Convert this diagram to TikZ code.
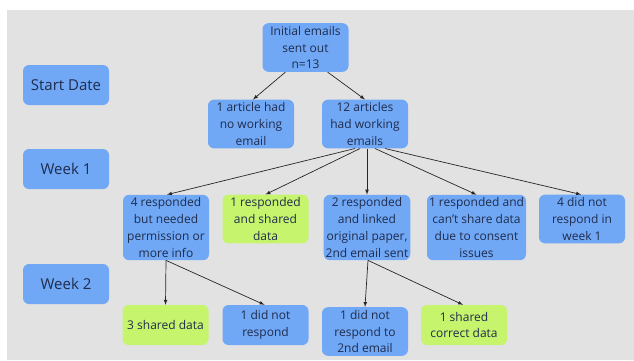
\documentclass[tikz,border=0pt]{standalone}
\usepackage{fontspec}
\setmainfont{Open Sans}
\usetikzlibrary{arrows}

\definecolor{boxblue}{HTML}{70A8F6}
\definecolor{boxgreen}{HTML}{C6F46C}
\definecolor{canvas}{HTML}{E2E2E2}
\definecolor{ink}{HTML}{1F2C4C}

\tikzset{
  box/.style={fill=boxblue, rounded corners=6pt, align=center, text=ink,
    minimum width=86pt, minimum height=40pt, inner xsep=2pt, inner ysep=3pt,
    font=\fontsize{12}{16.7}\selectfont},
  done/.style={box, fill=boxgreen},
  stage/.style={box, font=\fontsize{15}{18}\selectfont},
}

\begin{document}
\begin{tikzpicture}[x=1pt, y=-1pt, >=latex]
  \useasboundingbox (0,0) rectangle (634,360);
  \fill[canvas] (7,10) rectangle (634,360);

  % time line on the left
  \node[stage] (start) at (66,85)  {Start Date};
  \node[stage] (wk1)   at (66,169) {Week 1};
  \node[stage] (wk2)   at (66,284) {Week 2};

  % start
  \node[box] (init)  at (305.5,47.5) {Initial emails\\sent out\\n=13};
  \node[box] (art1)  at (251,124)    {1 article had\\no working\\email};
  \node[box] (art12) at (365,124)    {12 articles\\had working\\emails};

  % week 1
  \node[box]  (resp4)   at (166,227.5)   {4 responded\\but needed\\permission or\\more info};
  \node[done] (shared1) at (265.5,219)   {1 responded\\and shared\\data};
  \node[box]  (resp2)   at (367,227.5)   {2 responded\\and linked\\original paper,\\2nd email sent};
  \node[box, minimum width=99pt] (consent) at (476.5,227.5) {1 responded and\\can't share data\\due to consent\\issues};
  \node[box]  (noresp4) at (582,219)     {4 did not\\respond in\\week 1};

  % week 2
  \node[done] (shared3)   at (165.5,325) {3 shared data};
  \node[box]  (noresp1)   at (265.5,325) {1 did not\\respond};
  \node[box]  (noresp2nd) at (365,331.5) {1 did not\\respond to\\2nd email};
  \node[done] (correct)   at (464,325)   {1 shared\\correct data};

  \path[->, line width=0.7pt, black!85]
  ([xshift=-20pt]init.south) edge ([xshift=2pt]art1.north)
  ([xshift=22pt]init.south)  edge (art12.north)
  ([xshift=-10pt]art12.south) edge ([xshift=1pt]resp4.north)
  ([xshift=-5pt]art12.south)  edge (shared1.north)
  ([xshift=2pt]art12.south)   edge (resp2.north)
  ([xshift=10pt]art12.south)  edge (consent.north)
  ([xshift=20pt]art12.south)  edge ([xshift=-1pt]noresp4.north)
  (resp4.south) edge (shared3.north)
  (resp4.south) edge ([xshift=-1pt]noresp1.north)
  ([xshift=1pt]resp2.south) edge (noresp2nd.north)
  ([xshift=1pt]resp2.south) edge ([xshift=-1pt]correct.north);
\end{tikzpicture}
\end{document}
